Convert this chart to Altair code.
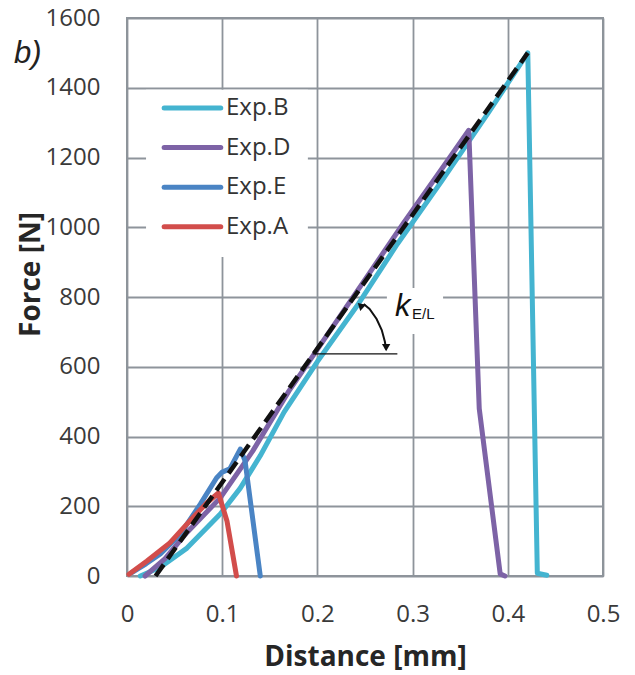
import altair as alt
import pandas as pd

# ---------------- data ----------------
series_names = ["Exp.B", "Exp.D", "Exp.E", "Exp.A"]
series_colors = ["#44b4d0", "#7d63a6", "#4a84c4", "#d24d4b"]

exp_b_x = [0.014, 0.035, 0.063, 0.098, 0.119, 0.140, 0.165, 0.200, 0.243, 0.284, 0.330, 0.380, 0.421, 0.431, 0.441]
exp_b_y = [0, 25, 80, 178, 252, 345, 470, 615, 780, 952, 1130, 1330, 1500, 8, 2]

exp_d_x = [0.019, 0.040, 0.063, 0.098, 0.132, 0.170, 0.210, 0.250, 0.290, 0.330, 0.359, 0.370, 0.392, 0.397]
exp_d_y = [0, 50, 125, 224, 358, 530, 690, 850, 1010, 1165, 1278, 480, 6, 0]

exp_e_x = [0.005, 0.020, 0.035, 0.056, 0.077, 0.094, 0.100, 0.108, 0.119, 0.124, 0.140]
exp_e_y = [10, 35, 63, 120, 206, 281, 298, 307, 364, 330, 0]

exp_a_x = [0.002, 0.021, 0.045, 0.066, 0.084, 0.096, 0.105, 0.115]
exp_a_y = [5, 43, 95, 158, 210, 238, 158, 0]

fit_x = [0.030, 0.421]
fit_y = [0, 1500]

x_ticks = [0, 0.1, 0.2, 0.3, 0.4, 0.5]
y_ticks = [0, 200, 400, 600, 800, 1000, 1200, 1400, 1600]

panel_label = ["b)"]
k_label = ["k"]
k_sub = ["E/L"]

# ---------------- tables ----------------
rows = []
for name, xs, ys in zip(series_names,
                        [exp_b_x, exp_d_x, exp_e_x, exp_a_x],
                        [exp_b_y, exp_d_y, exp_e_y, exp_a_y]):
    for i, (xv, yv) in enumerate(zip(xs, ys)):
        rows.append({"series": name, "x": xv, "y": yv, "order": i})
curves = pd.DataFrame(rows)
fit = pd.DataFrame({"x": fit_x, "y": fit_y})

# legend box and entries (annotation layout, data units)
legend_box = pd.DataFrame({"x": [0.020], "x2": [0.190], "y": [915], "y2": [1394]})
legend_df = pd.DataFrame({
    "series": series_names,
    "x": [0.039] * 4,
    "x2": [0.0985] * 4,
    "xt": [0.104] * 4,
    "y": [1342 - i * 113.6 for i in range(4)],
})

# k_E/L annotation
k_box = pd.DataFrame({"x": [0.273], "x2": [0.332], "y": [694], "y2": [826]})
k_rule = pd.DataFrame({"x": [0.195], "x2": [0.284], "y": [637]})
arc = pd.DataFrame({
    "x": [0.2721, 0.2709, 0.2676, 0.2622, 0.2548, 0.2486],
    "y": [650, 671.5, 705.1, 736.9, 765.6, 780],
    "order": list(range(6)),
})
arrow_heads = pd.DataFrame({"x": [0.2452, 0.2722], "y": [776, 655], "a": [313, 180]})
k_text = pd.DataFrame({"x": [0.2815], "y": [746], "t": k_label})
k_sub_text = pd.DataFrame({"x": [0.2994], "y": [738], "t": k_sub})
panel_df = pd.DataFrame({"t": panel_label})

# ---------------- encodings ----------------
xscale = alt.Scale(domain=[0, 0.5], nice=False, zero=False)
yscale = alt.Scale(domain=[0, 1600], nice=False)
X = alt.X("x:Q", scale=xscale,
          axis=alt.Axis(values=x_ticks, format=".1~f", title="Distance [mm]",
                        labelPadding=26, titleY=89, titleBaseline="alphabetic"))
Y = alt.Y("y:Q", scale=yscale,
          axis=alt.Axis(values=y_ticks, format="d", title="Force [N]",
                        labelPadding=27, titleX=-88, titleY=256,
                        titleBaseline="alphabetic", titleAlign="center"))
color = alt.Color("series:N", scale=alt.Scale(domain=series_names, range=series_colors), legend=None)

base_rect = alt.Chart(pd.concat([legend_box, k_box])).mark_rect(color="white").encode(
    x=X, x2="x2:Q", y=Y, y2="y2:Q")

lines = alt.Chart(curves).mark_line(strokeWidth=5, strokeJoin="round", strokeCap="round").encode(
    x=X, y=Y, color=color, order="order:Q",
    detail="series:N")

fit_line = alt.Chart(fit).mark_line(color="#111111", strokeWidth=4.5, strokeDash=[14, 7]).encode(x=X, y=Y)

leg_rules = alt.Chart(legend_df).mark_rule(strokeWidth=5, strokeCap="round").encode(
    x=X, x2="x2:Q", y=Y, color=color)
leg_text = alt.Chart(legend_df).mark_text(align="left", baseline="middle", font="Open Sans",
                                          fontSize=24, color="#333333").encode(
    x="xt:Q", y=Y, text="series:N")

k_hline = alt.Chart(k_rule).mark_rule(color="#111111", strokeWidth=1.2).encode(x=X, x2="x2:Q", y=Y)
arc_line = alt.Chart(arc).mark_line(color="#111111", strokeWidth=2).encode(x=X, y=Y, order="order:Q")
heads = alt.Chart(arrow_heads).mark_point(shape="triangle-up", filled=True, size=70,
                                          color="#111111", opacity=1).encode(
    x=X, y=Y, angle=alt.Angle("a:Q", scale=None))
k_t = alt.Chart(k_text).mark_text(align="left", baseline="alphabetic", font="Liberation Sans",
                                  fontStyle="italic", fontSize=31, color="#111111").encode(
    x=X, y=Y, text="t:N")
k_s = alt.Chart(k_sub_text).mark_text(align="left", baseline="alphabetic", font="Liberation Sans",
                                      fontSize=15, color="#111111").encode(
    x=X, y=Y, text="t:N")
panel = alt.Chart(panel_df).mark_text(align="left", baseline="alphabetic", font="Liberation Sans",
                                      fontStyle="italic", fontSize=31, color="#222222").encode(
    x=alt.value(-113), y=alt.value(45), text="t:N")

chart = alt.layer(base_rect, lines, fit_line, leg_rules, leg_text, k_hline, arc_line, heads,
                  k_t, k_s, panel).properties(
    width=476, height=558,
    autosize=alt.AutoSizeParams(type="none"),
    padding={"left": 119, "top": 10, "right": 20, "bottom": 99},
).configure_view(
    stroke="#8e949b", strokeWidth=2
).configure_axis(
    grid=True, gridColor="#8e949b", gridWidth=1.8, domain=False, ticks=False, tickSize=0,
    labelFont="Open Sans", labelFontSize=24, labelColor="#3a3a3a",
    titleFont="Open Sans", titleFontSize=28, titleFontWeight="bold", titleColor="#262626",
    labelOverlap=False, labelFlush=False,
)

chart.save("out.html", embed_options={"renderer": "svg", "actions": False})
